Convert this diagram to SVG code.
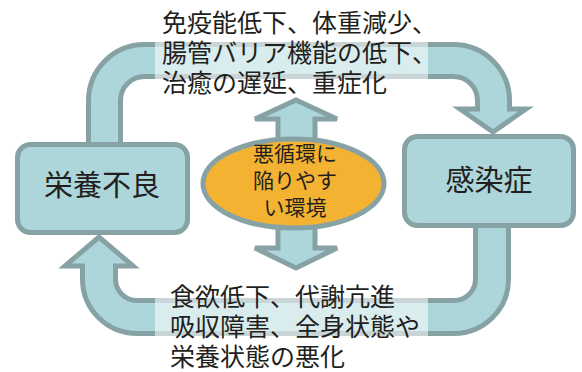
<svg xmlns="http://www.w3.org/2000/svg" width="582" height="372" viewBox="0 0 582 372">
<style>
.pipe-o{fill:none;stroke:#87a2a5;}
.pipe-i{fill:none;stroke:#acd6da;}
.head{fill:#acd6da;stroke:#87a2a5;stroke-width:5;stroke-linejoin:miter;}
.box{fill:#acd6da;stroke:#87a2a5;stroke-width:5;}
.veil{fill:#ffffff;fill-opacity:0.55;}
text{font-family:"Noto Sans CJK JP","Noto Sans CJK SC",sans-serif;fill:#231f20;}
.lbl{font-size:25px;}
.big{font-size:29px;text-anchor:middle;}
.mid{font-size:21px;text-anchor:middle;}
</style>
<rect width="582" height="372" fill="#ffffff"/>
<g id="connectors">
  <g id="conn-malnutrition-infection">
    <path class="pipe-o" stroke-width="37" d="M104.5,142 V100.5 A40,40 0 0 1 144.5,60.5 H453.5 A40,40 0 0 1 493.5,100.5 V112"/>
    <polygon class="head" points="460,109 526,109 493,132"/>
    <path class="pipe-i" stroke-width="27" d="M104.5,142 V100.5 A40,40 0 0 1 144.5,60.5 H453.5 A40,40 0 0 1 493.5,100.5 V113"/>
    <rect class="veil" x="155" y="41" width="273" height="40"/>
  </g>
  <g id="conn-infection-malnutrition">
    <path class="pipe-o" stroke-width="38" d="M492,228 V279 A38,38 0 0 1 454,317 H137 A38,38 0 0 1 99,279 V264"/>
    <polygon class="head" points="65,266 133,266 99,237"/>
    <path class="pipe-i" stroke-width="28" d="M492,228 V279 A38,38 0 0 1 454,317 H137 A38,38 0 0 1 99,279 V263"/>
    <rect class="veil" x="155" y="296" width="273" height="42"/>
  </g>
  <g id="conn-vicious-up">
    <polygon class="head" points="296,100 337,119 315,119 315,160 278,160 278,119 255,119"/>
  </g>
  <g id="conn-vicious-down">
    <polygon class="head" points="278,205 315,205 315,248 337,248 296,268 255,248 278,248"/>
  </g>
  <g id="label-top">
    <text class="lbl" x="162" y="32">免疫能低下、体重減少、</text>
    <text class="lbl" x="162" y="62">腸管バリア機能の低下、</text>
    <text class="lbl" x="162" y="92">治癒の遅延、重症化</text>
  </g>
  <g id="label-bottom">
    <text class="lbl" x="170" y="306">食欲低下、代謝亢進</text>
    <text class="lbl" x="170" y="336">吸収障害、全身状態や</text>
    <text class="lbl" x="170" y="366">栄養状態の悪化</text>
  </g>
</g>
<g id="node-malnutrition">
  <rect class="box" x="17.5" y="144.5" width="170" height="88" rx="13"/>
  <text class="big" x="102" y="196">栄養不良</text>
</g>
<g id="node-infection">
  <rect class="box" x="404.5" y="136.5" width="169" height="89" rx="13"/>
  <text class="big" x="489" y="191">感染症</text>
</g>
<g id="node-vicious">
  <ellipse cx="293.5" cy="183.5" rx="90.5" ry="44.5" fill="#f3b232" stroke="#87a2a5" stroke-width="5"/>
  <text class="mid" x="295" y="161">悪循環に</text>
  <text class="mid" x="295" y="188">陥りやす</text>
  <text class="mid" x="295" y="215">い環境</text>
</g>
</svg>
